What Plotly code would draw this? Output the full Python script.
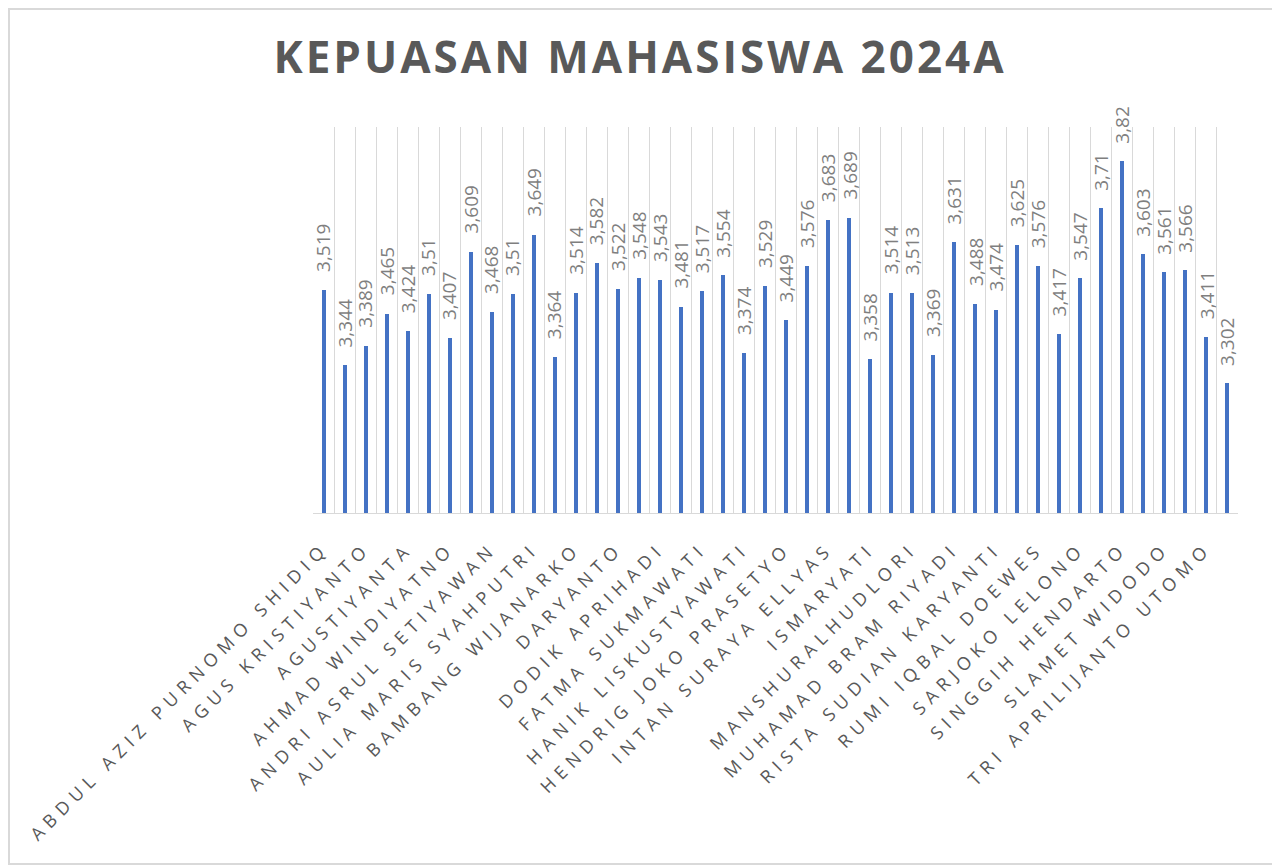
import plotly.graph_objects as go

title_text = "KEPUASAN MAHASISWA 2024A"

# satu nilai per dosen (44 batang); hanya setiap nama kedua tampil di sumbu
scores = [
    3.519, 3.344, 3.389, 3.465, 3.424, 3.51, 3.407, 3.609, 3.468, 3.51,
    3.649, 3.364, 3.514, 3.582, 3.522, 3.548, 3.543, 3.481, 3.517, 3.554,
    3.374, 3.529, 3.449, 3.576, 3.683, 3.689, 3.358, 3.514, 3.513, 3.369,
    3.631, 3.488, 3.474, 3.625, 3.576, 3.417, 3.547, 3.71, 3.82, 3.603,
    3.561, 3.566, 3.411, 3.302,
]

shown_names = [
    "ABDUL AZIZ PURNOMO SHIDIQ", "AGUS KRISTIYANTO", "AGUSTIYANTA",
    "AHMAD WINDIYATNO", "ANDRI ASRUL SETIYAWAN", "AULIA MARIS SYAHPUTRI",
    "BAMBANG WIJANARKO", "DARYANTO", "DODIK APRIHADI", "FATMA SUKMAWATI",
    "HANIK LISKUSTYAWATI", "HENDRIG JOKO PRASETYO", "INTAN SURAYA ELLYAS",
    "ISMARYATI", "MANSHURALHUDLORI", "MUHAMAD BRAM RIYADI",
    "RISTA SUDIAN KARYANTI", "RUMI IQBAL DOEWES", "SARJOKO LELONO",
    "SINGGIH HENDARTO", "SLAMET WIDODO", "TRI APRILIJANTO UTOMO",
]

x = list(range(len(scores)))
labels = [str(v).replace(".", ",") for v in scores]


def spaced(s, px):
    # jarak huruf ala Excel
    return f'<span style="letter-spacing:{px}px">{s}</span>'


# halaman punya margin 8px, jadi figur dibuat sedikit lebih kecil
W, H = 1272, 857
ml, mr, mt, mb = 305, 42, 119, 352
pw, ph = W - ml - mr, H - mt - mb

fig = go.Figure(
    go.Bar(
        x=x, y=scores,
        width=0.19,
        marker=dict(color="#4472C4", line=dict(width=0)),
        hoverinfo="x+y",
    )
)

ann = [
    dict(
        x=xi, y=v, text=t, textangle=-90,
        showarrow=False, xanchor="center", yanchor="bottom", yshift=16,
        font=dict(family="Open Sans", size=19, color="#7F7F7F"),
    )
    for xi, v, t in zip(x, scores, labels)
]

fig.update_layout(
    width=W, height=H,
    margin=dict(l=ml, r=mr, t=mt, b=mb, autoexpand=False),
    paper_bgcolor="white", plot_bgcolor="white",
    showlegend=False,
    bargap=0,
    title=dict(
        text=spaced(title_text, 3), x=632 / W, xanchor="center",
        yref="container", y=1 - 50 / H, yanchor="middle",
        font=dict(family="Open Sans", size=44, color="#595959", weight="bold"),
    ),
    annotations=ann,
    shapes=[dict(
        type="rect", xref="paper", yref="paper",
        x0=-(ml - 1) / pw, x1=1 + (mr - 1) / pw,
        y0=-(mb - 1) / ph, y1=1 + (mt - 1) / ph,
        line=dict(color="#D9D9D9", width=2), layer="below",
    )],
)

fig.update_xaxes(
    range=[-0.5, len(scores) - 0.5],
    tickmode="array", tickvals=x[::2],
    ticktext=[spaced(n, 6) for n in shown_names],
    tickangle=-45, ticks="", ticklabelstandoff=17,
    tickfont=dict(family="Open Sans", size=18, color="#595959"),
    showgrid=False, zeroline=False,
    showline=True, linecolor="#D9D9D9", linewidth=1,
    minor=dict(tickmode="linear", tick0=-0.5, dtick=1, showgrid=True,
               gridcolor="#D9D9D9", gridwidth=1, ticks=""),
    automargin=False,
)
fig.update_yaxes(
    range=[3.0, 3.9], visible=False, showgrid=False, zeroline=False,
)

fig.write_html("out.html")
